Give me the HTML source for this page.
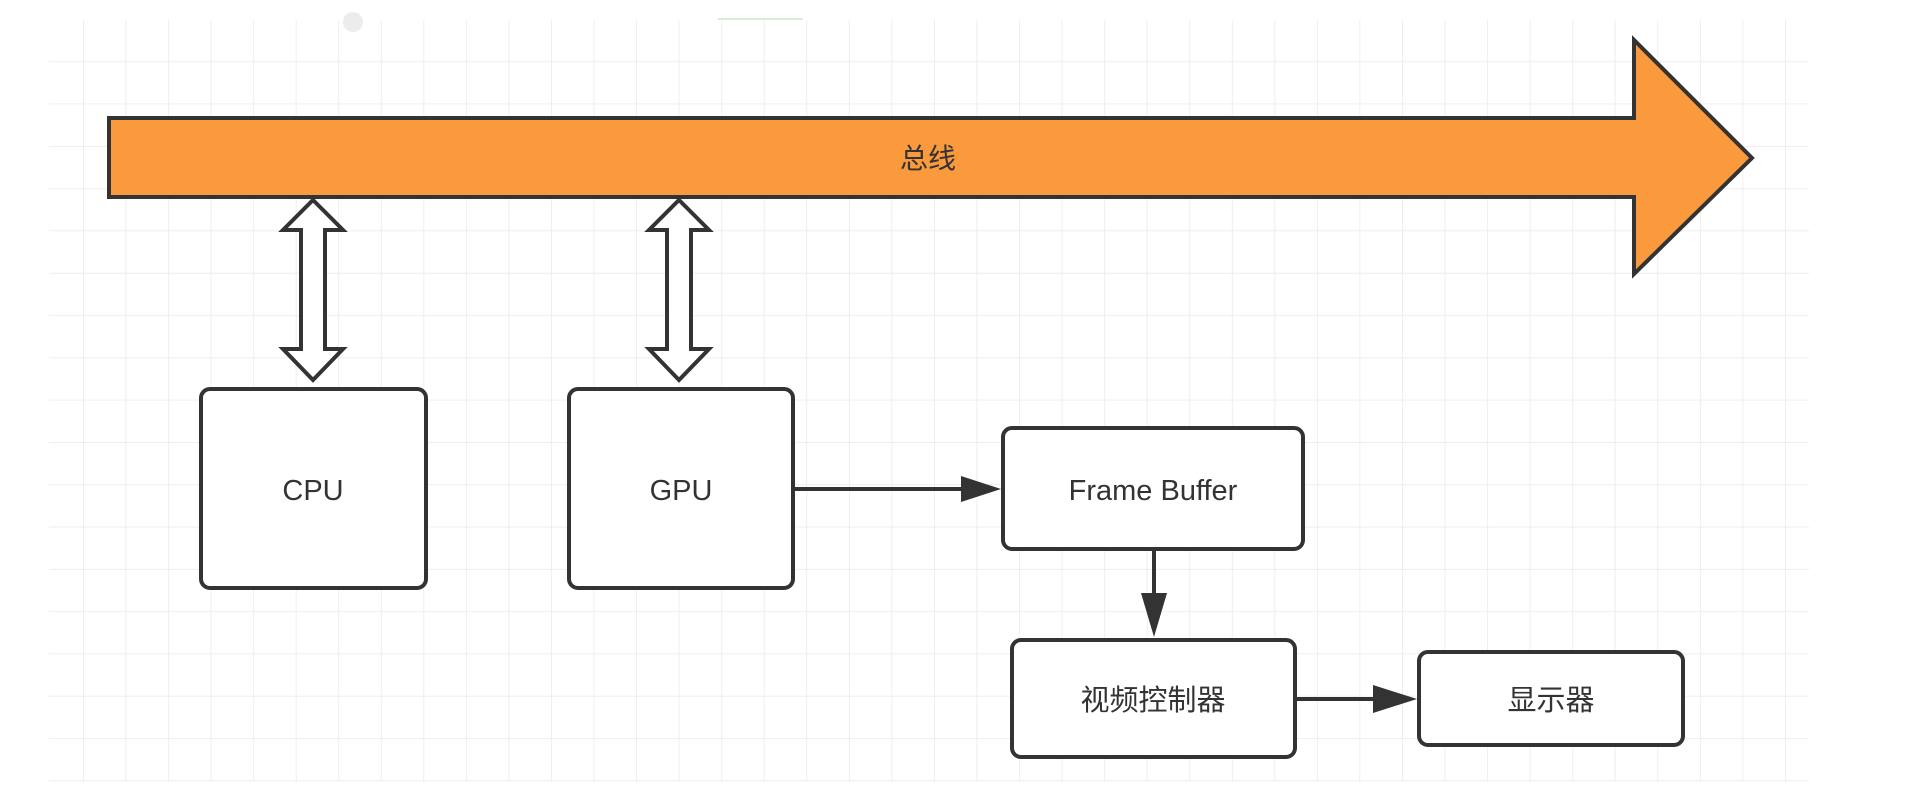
<!DOCTYPE html>
<html><head><meta charset="utf-8"><style>
html,body{margin:0;padding:0;background:#fff;}
body{width:1908px;height:790px;overflow:hidden;}
text{font-family:"Liberation Sans","Noto Sans CJK SC",sans-serif;fill:#333;}
</style></head><body>
<svg width="1908" height="790" xmlns="http://www.w3.org/2000/svg">
<defs>
<pattern id="g" x="83" y="19" width="42.55" height="42.3" patternUnits="userSpaceOnUse">
<path d="M0 0V42.3M0 0H42.55" stroke="#e9e9e9" stroke-width="1.5" fill="none"/>
</pattern>
</defs>
<rect x="49" y="20" width="1760" height="762" fill="url(#g)"/>
<circle cx="353" cy="22" r="10" fill="#ececec"/>
<line x1="718" y1="19" x2="803" y2="19" stroke="#d8eed8" stroke-width="2"/>
<!-- bus arrow -->
<path d="M109 118 H1634 V40 L1752 158 L1634 274 V197 H109 Z" fill="#fa9a3c" stroke="#333" stroke-width="4" stroke-linejoin="miter"/>
<text x="928" y="168" font-size="28" text-anchor="middle">总线</text>
<!-- double arrows -->
<path d="M313 200 L343 230 H325 V349 H343 L313 380 L283 349 H301 V230 H283 Z" fill="#fff" stroke="#333" stroke-width="4"/>
<path d="M679 200 L709 230 H691 V349 H709 L679 380 L649 349 H667 V230 H649 Z" fill="#fff" stroke="#333" stroke-width="4"/>
<!-- boxes -->
<rect x="201" y="389" width="225" height="199" rx="9" fill="#fff" stroke="#333" stroke-width="4"/>
<text x="313" y="500" font-size="29" text-anchor="middle">CPU</text>
<rect x="569" y="389" width="224" height="199" rx="9" fill="#fff" stroke="#333" stroke-width="4"/>
<text x="681" y="500" font-size="29" text-anchor="middle">GPU</text>
<rect x="1003" y="428" width="300" height="121" rx="9" fill="#fff" stroke="#333" stroke-width="4"/>
<text x="1153" y="500" font-size="29" text-anchor="middle">Frame Buffer</text>
<rect x="1012" y="640" width="283" height="117" rx="9" fill="#fff" stroke="#333" stroke-width="4"/>
<text x="1153" y="710" font-size="29" text-anchor="middle">视频控制器</text>
<rect x="1419" y="652" width="264" height="93" rx="9" fill="#fff" stroke="#333" stroke-width="4"/>
<text x="1551" y="710" font-size="29" text-anchor="middle">显示器</text>
<!-- connectors -->
<line x1="793" y1="489" x2="965" y2="489" stroke="#333" stroke-width="4"/>
<path d="M961 476 L1001 489 L961 502 Z" fill="#333"/>
<line x1="1154" y1="550" x2="1154" y2="596" stroke="#333" stroke-width="4"/>
<path d="M1141 593 L1154 637 L1167 593 Z" fill="#333"/>
<line x1="1295" y1="699" x2="1378" y2="699" stroke="#333" stroke-width="4"/>
<path d="M1373 685 L1417 699 L1373 713 Z" fill="#333"/>
</svg>
</body></html>
